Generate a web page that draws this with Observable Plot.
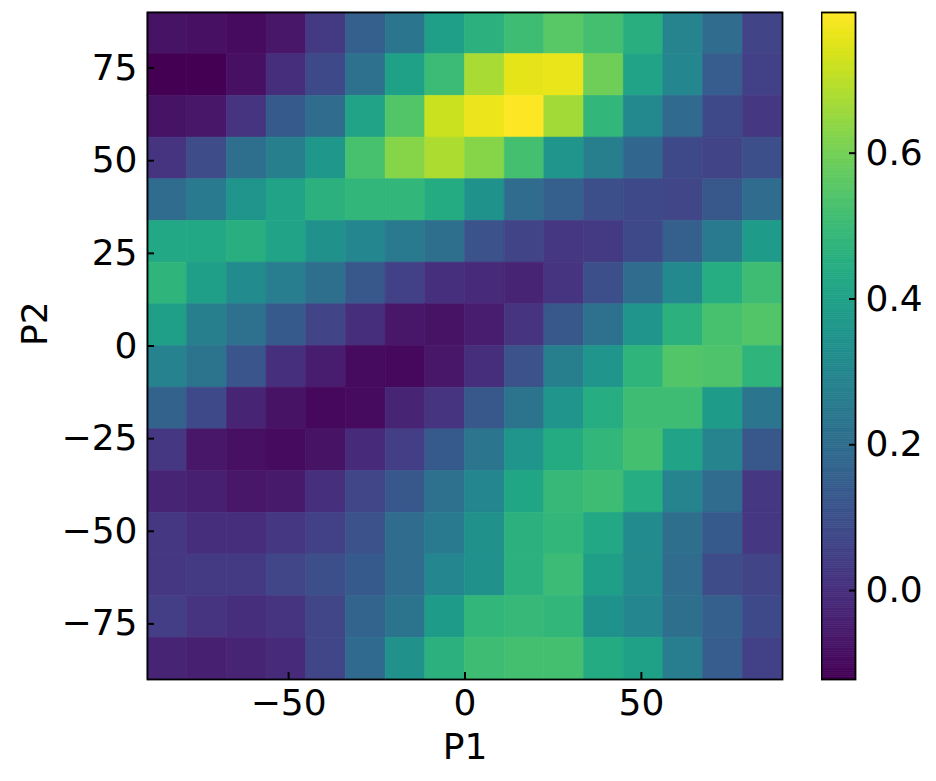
<!DOCTYPE html>
<html><head><meta charset="utf-8">
<script src="https://cdn.jsdelivr.net/npm/d3@7"></script>
<script src="https://cdn.jsdelivr.net/npm/@observablehq/plot@0.6"></script>
<style>
body{margin:0;background:#fff;}
#wrap{position:relative;width:936px;height:781px;}
#wrap svg{position:absolute;top:0;}
</style></head><body><div id="wrap"></div>
<script>
// Bin centers (P1 left→right, P2 top→bottom)
const p1Centers = [-84.375,-73.125,-61.875,-50.625,-39.375,-28.125,-16.875,-5.625,5.625,16.875,28.125,39.375,50.625,61.875,73.125,84.375];
const p2Centers = [84.375,73.125,61.875,50.625,39.375,28.125,16.875,5.625,-5.625,-16.875,-28.125,-39.375,-50.625,-61.875,-73.125,-84.375];
const binWidth = 11.25;
// Values, one row per P2 bin (top to bottom)
const values = [
  [-0.076,-0.085,-0.095,-0.067,0.034,0.153,0.235,0.390,0.464,0.509,0.555,0.519,0.454,0.290,0.198,0.061],
  [-0.122,-0.120,-0.085,-0.003,0.079,0.217,0.400,0.500,0.674,0.756,0.761,0.592,0.409,0.299,0.143,0.052],
  [-0.076,-0.067,0.015,0.134,0.198,0.409,0.546,0.720,0.766,0.790,0.665,0.482,0.308,0.189,0.079,0.024],
  [0.015,0.088,0.207,0.271,0.363,0.528,0.628,0.679,0.628,0.519,0.354,0.271,0.180,0.079,0.061,0.098],
  [0.198,0.253,0.354,0.409,0.464,0.482,0.482,0.436,0.345,0.198,0.153,0.098,0.079,0.070,0.125,0.198],
  [0.427,0.427,0.454,0.409,0.336,0.299,0.253,0.207,0.107,0.061,0.024,0.034,0.079,0.153,0.253,0.381],
  [0.473,0.390,0.317,0.262,0.207,0.125,0.052,0.006,-0.012,-0.031,0.015,0.098,0.198,0.308,0.445,0.509],
  [0.390,0.271,0.217,0.134,0.061,-0.003,-0.067,-0.076,-0.049,0.015,0.125,0.217,0.354,0.464,0.528,0.546],
  [0.281,0.226,0.116,0.006,-0.049,-0.095,-0.104,-0.067,-0.003,0.107,0.271,0.354,0.473,0.546,0.537,0.473],
  [0.162,0.079,-0.031,-0.076,-0.104,-0.095,-0.031,0.015,0.125,0.226,0.354,0.445,0.509,0.509,0.381,0.235],
  [0.024,-0.067,-0.085,-0.095,-0.076,-0.012,0.043,0.134,0.235,0.354,0.436,0.482,0.519,0.409,0.290,0.125],
  [-0.031,-0.040,-0.067,-0.058,0.006,0.070,0.125,0.217,0.299,0.418,0.491,0.509,0.445,0.290,0.198,0.024],
  [0.024,-0.003,-0.003,0.024,0.052,0.107,0.198,0.253,0.336,0.464,0.482,0.427,0.317,0.207,0.134,0.024],
  [0.024,0.034,0.034,0.070,0.098,0.134,0.198,0.299,0.336,0.464,0.500,0.390,0.317,0.198,0.088,0.061],
  [0.043,0.015,-0.003,0.015,0.070,0.171,0.226,0.381,0.482,0.491,0.482,0.345,0.299,0.207,0.153,0.079],
  [-0.031,-0.040,-0.031,-0.012,0.070,0.189,0.336,0.464,0.509,0.519,0.519,0.436,0.400,0.262,0.143,0.052]
];
const xTicks = [-50, 0, 50];
const yTicks = [-75, -50, -25, 0, 25, 50, 75];
const cbTicks = [0.0, 0.2, 0.4, 0.6];
const colorDomain = [-0.122, 0.793];
const xLabel = "P1", yLabel = "P2";

const fmtInt = d => (d < 0 ? "\u2212" + Math.abs(d) : String(d));
const font = "DejaVu Sans, sans-serif";
const fs = 36;

const cells = [];
values.forEach((row, r) => row.forEach((v, c) => cells.push({p1: p1Centers[c], p2: p2Centers[r], v})));
const h = binWidth / 2;

const main = Plot.plot({
  width: 936, height: 781,
  marginLeft: 147, marginRight: 154, marginTop: 12, marginBottom: 102,
  style: {fontFamily: font, fontSize: fs + "px", background: "transparent", color: "black"},
  x: {domain: [-90, 90], label: null},
  y: {domain: [-90, 90], label: null},
  color: {type: "linear", scheme: "viridis", domain: colorDomain},
  marks: [
    Plot.rect(cells, {x1: d => d.p1 - h, x2: d => d.p1 + h, y1: d => d.p2 - h, y2: d => d.p2 + h,
      fill: "v", stroke: "v", strokeWidth: 0.6, inset: 0}),
    Plot.frame({stroke: "black", strokeWidth: 1.8}),
    Plot.axisX({ticks: xTicks, tickFormat: fmtInt, tickSize: -7, tickPadding: 17, strokeWidth: 2, fontSize: fs, label: null}),
    Plot.axisY({ticks: yTicks, tickFormat: fmtInt, tickSize: -7, tickPadding: 17, strokeWidth: 2, fontSize: fs, label: null}),
    Plot.text([xLabel], {frameAnchor: "bottom", dy: 79, fontSize: fs, fill: "black", text: d => d}),
    Plot.text([yLabel], {frameAnchor: "left", dx: -112, rotate: -90, fontSize: fs, fill: "black", text: d => d})
  ]
});

const n = 300;
const ramp = d3.range(n).map(i => ({v0: colorDomain[0] + (colorDomain[1] - colorDomain[0]) * i / n,
                                     v1: colorDomain[0] + (colorDomain[1] - colorDomain[0]) * (i + 1) / n}));
const cb = Plot.plot({
  width: 115, height: 781,
  marginLeft: 0, marginRight: 81, marginTop: 12, marginBottom: 102,
  style: {fontFamily: font, fontSize: fs + "px", background: "transparent", color: "black"},
  x: {domain: [0, 1], axis: null},
  y: {domain: colorDomain, label: null},
  color: {type: "linear", scheme: "viridis", domain: colorDomain},
  marks: [
    Plot.rect(ramp, {x1: 0, x2: 1, y1: "v0", y2: "v1", fill: d => (d.v0 + d.v1) / 2, stroke: d => (d.v0 + d.v1) / 2, strokeWidth: 0.6}),
    Plot.frame({stroke: "black", strokeWidth: 1.8}),
    Plot.axisY({anchor: "right", ticks: cbTicks, tickFormat: d => d.toFixed(1), tickSize: -7, tickPadding: 17, strokeWidth: 2, fontSize: fs, label: null})
  ]
});

const wrap = document.getElementById("wrap");
main.style.left = "0px";
cb.style.left = "821px";
wrap.appendChild(main);
wrap.appendChild(cb);
</script></body></html>
